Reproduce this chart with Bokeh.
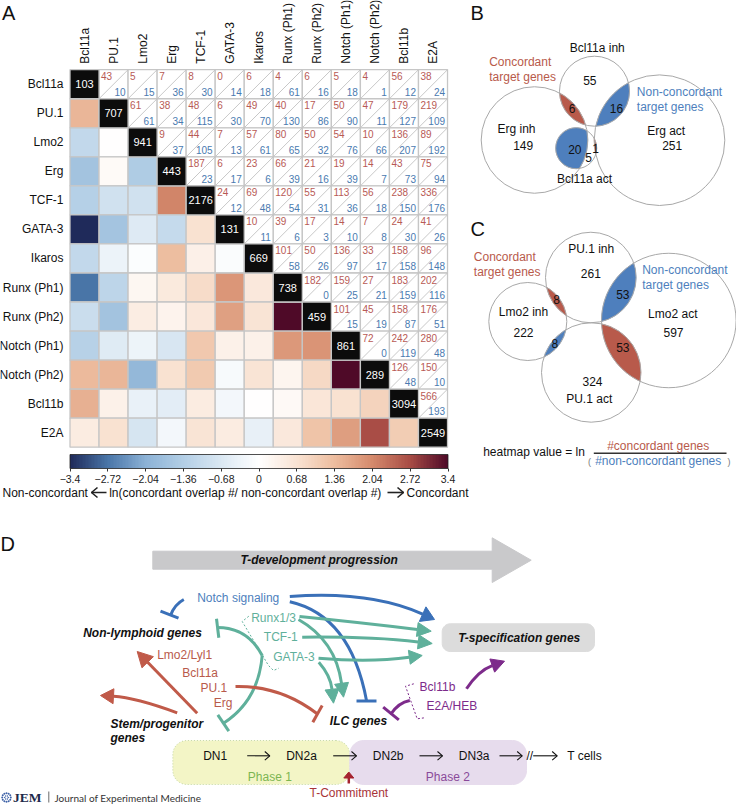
import numpy as np
from bokeh.embed import file_html
from bokeh.resources import INLINE
from bokeh.plotting import figure
from bokeh.core.properties import value
from bokeh.models import ColumnDataSource, Range1d, LinearColorMapper, ColorBar, FixedTicker

# ---------------------------------------------------------------- data
NAMES = ["Bcl11a", "PU.1", "Lmo2", "Erg", "TCF-1", "GATA-3", "Ikaros", "Runx (Ph1)", "Runx (Ph2)",
         "Notch (Ph1)", "Notch (Ph2)", "Bcl11b", "E2A"]
DIAGONAL = [103, 707, 941, 443, 2176, 131, 669, 738, 459, 861, 289, 3094, 2549]
CONCORDANT = [
    [43, 5, 7, 8, 0, 6, 4, 6, 5, 4, 56, 38],
    [61, 38, 48, 6, 49, 40, 17, 50, 47, 179, 219],
    [9, 44, 7, 57, 80, 50, 54, 10, 136, 89],
    [187, 6, 23, 66, 21, 19, 14, 43, 75],
    [24, 69, 120, 55, 113, 56, 238, 336],
    [10, 39, 17, 14, 7, 24, 41],
    [101, 50, 136, 33, 158, 96],
    [182, 159, 27, 183, 202],
    [101, 45, 158, 176],
    [72, 242, 280],
    [126, 150],
    [566],
]
NON_CONCORDANT = [
    [10, 15, 36, 30, 14, 18, 61, 16, 18, 1, 12, 24],
    [61, 34, 115, 30, 70, 130, 86, 90, 11, 127, 109],
    [37, 105, 13, 61, 65, 32, 76, 66, 207, 192],
    [23, 17, 6, 39, 16, 39, 7, 73, 94],
    [12, 48, 54, 31, 36, 18, 150, 176],
    [11, 6, 3, 10, 8, 30, 26],
    [58, 26, 97, 17, 158, 148],
    [0, 25, 21, 159, 116],
    [15, 19, 87, 51],
    [0, 119, 48],
    [48, 10],
    [193],
]
BAR_TICKS = [-3.4, -2.72, -2.04, -1.36, -0.68, 0, 0.68, 1.36, 2.04, 2.72, 3.4]
BAR_LABELS = ["\u22123.4", "\u22122.72", "\u22122.04", "\u22121.36", "\u22120.68", "0", "0.68", "1.36", "2.04", "2.72", "3.4"]

VENN_B_COUNTS = ["55", "6", "16", "149", "20", "5", "1", "251"]
VENN_C_COUNTS = ["261", "8", "53", "222", "8", "53", "597", "324"]

RED = "#b85a4b"
BLUE = "#4e7fbd"
HEAD_BLUE = "#3a70b8"
GREEN = "#5fb09b"
PURPLE = "#7d2b8b"
ARROW_RED = "#c05a49"
FONT = "Liberation Sans"

# ---------------------------------------------------------------- palette
anchor_v = [-3.4, -2.72, -2.04, -1.36, -0.68, 0, 0.68, 1.36, 2.04, 2.72, 3.4]
anchor_c = ["#1f2a5a", "#4a76a9", "#8cb2d6", "#b3cfe6", "#dbe8f3", "#ffffff", "#f9e3d3",
            "#edbd9f", "#d58a6c", "#a84c45", "#4f0a28"]
rgb = np.array([[int(h[i:i + 2], 16) for i in (1, 3, 5)] for h in anchor_c], float)
grid = np.linspace(-3.4, 3.4, 256)
PAL = ["#%02x%02x%02x" % tuple(int(round(np.interp(g, anchor_v, rgb[:, k]))) for k in range(3)) for g in grid]
mapper = LinearColorMapper(palette=PAL, low=-3.4, high=3.4)

W, H = 736, 806
X0, Y0, CELL = 69.5, 69.2, 29.04   # heatmap origin and cell size on the page

d = figure(width=W, height=H, x_range=Range1d(0, W), y_range=Range1d(H, 0), x_axis_type=None, y_axis_type=None,
           toolbar_location=None, output_backend="svg", min_border=0)
d.outline_line_color = None
d.grid.visible = False
# the heatmap is drawn through its own scale, in cell units
d.extra_x_ranges["cell_x"] = Range1d(-X0 / CELL, (W - X0) / CELL)
d.extra_y_ranges["cell_y"] = Range1d((H - Y0) / CELL, -Y0 / CELL)
cell = dict(x_range_name="cell_x", y_range_name="cell_y")

# ---------------------------------------------------------------- A: heatmap
low_x, low_y, low_v = [], [], []
up_x, up_y, up_c, up_n = [], [], [], []
for r in range(len(CONCORDANT)):
    for k, (c_val, n_val) in enumerate(zip(CONCORDANT[r], NON_CONCORDANT[r])):
        col = r + 1 + k
        up_x.append(col + 0.5); up_y.append(r + 0.5)
        up_c.append(str(c_val)); up_n.append(str(n_val))
        low_x.append(r + 0.5); low_y.append(col + 0.5)
        low_v.append(float(np.clip(np.log(c_val / n_val), -3.4, 3.4)) if c_val and n_val else (3.4 if c_val else -3.4))

GRID = "#c6c6c6"
d.rect(x="x", y="y", width=1, height=1, source=ColumnDataSource(dict(x=low_x, y=low_y, v=low_v)),
       fill_color={"field": "v", "transform": mapper}, line_color=GRID, line_width=1.3, **cell)
up = ColumnDataSource(dict(x=up_x, y=up_y, c=up_c, n=up_n, x0=[a - 0.5 for a in up_x], y0=[b + 0.5 for b in up_y],
                           x1=[a + 0.5 for a in up_x], y1=[b - 0.5 for b in up_y]))
d.rect(x="x", y="y", width=1, height=1, source=up, fill_color="white", line_color=GRID, line_width=1.3, **cell)
d.segment(x0="x0", y0="y0", x1="x1", y1="y1", source=up, line_color="#c2c2c2", line_width=0.9, **cell)
d.text(x="x", y="y", text="c", source=up, x_offset=-12.5, y_offset=-8, text_color="#b85a55", text_align="left",
       text_baseline="middle", text_font=value(FONT), text_font_size="10px", **cell)
d.text(x="x", y="y", text="n", source=up, x_offset=12, y_offset=7.5, text_color="#4a7ab0", text_align="right",
       text_baseline="middle", text_font=value(FONT), text_font_size="10px", **cell)
idx = [i + 0.5 for i in range(len(NAMES))]
dg = ColumnDataSource(dict(x=idx, y=idx, t=[str(v) for v in DIAGONAL], name=NAMES, zero=[0.0] * len(NAMES)))
d.rect(x="x", y="y", width=1, height=1, source=dg, fill_color="#0c0c0c", line_color=GRID, line_width=1.3, **cell)
d.text(x="x", y="y", text="t", source=dg, text_color="white", text_align="center", text_baseline="middle",
       text_font=value(FONT), text_font_size="11px", **cell)
# category labels
d.text(x="zero", y="y", text="name", source=dg, x_offset=-6.5, text_align="right", text_baseline="middle",
       text_color="#111111", text_font=value(FONT), text_font_size="12px", **cell)
d.text(x="x", y="zero", text="name", source=dg, y_offset=-6, angle=np.pi / 2, text_align="left", text_baseline="middle",
       text_color="#111111", text_font=value(FONT), text_font_size="12px", **cell)

bar = ColorBar(color_mapper=mapper, orientation="horizontal", width=378, height=14, padding=0, margin=0,
               location=(X0, H - 485), ticker=FixedTicker(ticks=BAR_TICKS),
               major_label_overrides=dict(zip(BAR_TICKS, BAR_LABELS)),
               major_label_text_font=FONT, major_label_text_font_size="10.5px", major_label_text_color="#222222",
               major_tick_in=0, major_tick_out=3, major_tick_line_color="#333333", label_standoff=3,
               bar_line_color="#222222", bar_line_width=0.8, minor_tick_line_color=None)
d.add_layout(bar, "center")


# ---------------------------------------------------------------- helpers
def txt(x, y, s, size=12, color="#111111", align="left", style="normal", font=FONT):
    d.text(x=[x], y=[y], text=[s], text_font=value(font), text_font_size=f"{size}px", text_color=color,
           text_align=align, text_baseline="middle", text_font_style=style)


def chevron(x0, x1, y, color="#222222", w=1.6, b=6, h=5):
    s = 1 if x1 > x0 else -1
    d.line([x0, x1], [y, y], line_color=color, line_width=w)
    d.line([x1 - s * b, x1, x1 - s * b], [y - h, y, y + h], line_color=color, line_width=w)


def lens(a, b):
    (ax, ay, ar), (bx, by, br) = a, b
    dist = np.hypot(bx - ax, by - ay)
    phi = np.arctan2(by - ay, bx - ax)
    al = np.arccos((dist ** 2 + ar * ar - br * br) / (2 * dist * ar))
    be = np.arccos((dist ** 2 + br * br - ar * ar) / (2 * dist * br))
    t1 = np.linspace(phi - al, phi + al, 60)
    t2 = np.linspace(phi + np.pi - be, phi + np.pi + be, 60)
    return (list(ax + ar * np.cos(t1)) + list(bx + br * np.cos(t2)),
            list(ay + ar * np.sin(t1)) + list(by + br * np.sin(t2)))


def draw_venn(circles, fills, counts, count_xy):
    for (i, j, c) in fills:
        xs, ys = lens(circles[i], circles[j])
        d.patch(xs, ys, fill_color=c, line_color=c, line_width=0.3)
    d.circle(x=[c[0] for c in circles], y=[c[1] for c in circles], radius=[c[2] for c in circles],
             fill_alpha=0, line_color="#a8a8a8", line_width=1)
    for s, (x, y) in zip(counts, count_xy):
        txt(x, y, s, align="center")


def curve(x0, y0, cx, cy, x1, y1, color, w=3.0):
    d.quadratic(x0=[x0], y0=[y0], x1=[x1], y1=[y1], cx=[cx], cy=[cy], line_color=color, line_width=w)


def arrow(x0, y0, cx, cy, tx, ty, color, L=12, Hw=7, w=3.0):
    v = np.array([tx - cx, ty - cy], float)
    v /= np.hypot(*v)
    n = np.array([-v[1], v[0]])
    base = np.array([tx, ty]) - L * v
    curve(x0, y0, cx, cy, base[0], base[1], color, w)
    a, b = base + Hw * n, base - Hw * n
    d.patch([tx, a[0], b[0]], [ty, a[1], b[1]], fill_color=color, line_color=color)


def tbar(x0, y0, cx, cy, x1, y1, b0, b1, color, w=3.0):
    curve(x0, y0, cx, cy, x1, y1, color, w)
    d.line([b0[0], b1[0]], [b0[1], b1[1]], line_color=color, line_width=w)


def rounded(x0, y0, x1, y1, r, **kw):
    t = np.linspace(0, np.pi / 2, 10)
    xs = list(x1 - r + r * np.sin(t)) + list(x1 - r + r * np.cos(t)) + list(x0 + r - r * np.sin(t)) + list(x0 + r - r * np.cos(t))
    ys = list(y0 + r - r * np.cos(t)) + list(y1 - r + r * np.sin(t)) + list(y1 - r + r * np.cos(t)) + list(y0 + r - r * np.sin(t))
    d.patch(xs, ys, **kw)


txt(1.5, 12, "A", size=20)
txt(2, 492, "Non-concordant")
chevron(106, 91, 492)
txt(108.7, 492, "ln(concordant overlap #/ non-concordant overlap #)")
chevron(387, 403, 492)
txt(406, 492, "Concordant")

# ---------------------------------------------------------------- B, C: venns
txt(470, 12, "B", size=20)
B = [(594, 90.7, 35), (534, 139.5, 53.3), (659, 139.7, 65.3), (575.7, 147.7, 20.5)]
draw_venn(B, [(0, 1, RED), (0, 2, BLUE), (3, 1, BLUE), (3, 2, RED)], VENN_B_COUNTS,
          [(589.3, 80), (571.7, 108.3), (616, 108.3), (522.7, 145.3), (574.3, 148.7), (588, 156.7), (595, 148.3), (671.7, 145.3)])
txt(596.7, 47.3, "Bcl11a inh", align="center")
txt(516, 128.7, "Erg inh", align="center")
txt(584, 178.7, "Bcl11a act", align="center")
txt(665.7, 130.7, "Erg act", align="center")
txt(488.7, 61.7, "Concordant", color=RED)
txt(488.7, 76.3, "target genes", color=RED)
txt(636.3, 91, "Non-concordant", color=BLUE)
txt(636.3, 106, "target genes", color=BLUE)

txt(470, 228, "C", size=20)
C = [(590.3, 277, 45.3), (527.3, 321, 39), (668.3, 320, 67.3), (590.7, 372, 49.7)]
draw_venn(C, [(0, 1, RED), (0, 2, BLUE), (3, 1, BLUE), (3, 2, RED)], VENN_C_COUNTS,
          [(590.3, 272.7), (556, 298.7), (622.3, 293.7), (523, 332), (554.3, 343.3), (622.3, 347.3), (673, 332), (592, 380.7)])
txt(590.7, 248.3, "PU.1 inh", align="center")
txt(523, 311.3, "Lmo2 inh", align="center")
txt(672.3, 313, "Lmo2 act", align="center")
txt(588.7, 398.7, "PU.1 act", align="center")
txt(473.3, 256.7, "Concordant", color=RED)
txt(473.3, 271.7, "target genes", color=RED)
txt(641.7, 269.7, "Non-concordant", color=BLUE)
txt(641.7, 284.3, "target genes", color=BLUE)

txt(482.7, 451, "heatmap value = ln")
txt(657.7, 445, "#concordant genes", color=RED, align="center")
txt(657.7, 460.5, "#non-concordant genes", color=BLUE, align="center")
d.line([593.3, 726], [452.7, 452.7], line_color="#333333", line_width=1.4)
txt(587.5, 461, "(", size=9, color="#777777")
txt(727, 461, ")", size=9, color="#777777")

# ---------------------------------------------------------------- D: model
txt(0, 543, "D", size=20)

d.patch([152.3, 491.7, 491.7, 530.7, 491.7, 491.7, 152.3], [550.7, 550.7, 537.3, 559.7, 582, 568.7, 568.7],
        fill_color="#c9c9cb", line_color="#c9c9cb")
txt(240, 559.5, "T-development progression", style="bold italic")

rounded(441.7, 623.3, 594, 651, 8, fill_color="#dcdcdc", line_color="#dcdcdc")
txt(457.7, 637.5, "T-specification genes", style="bold italic")
rounded(172.3, 740, 349.3, 784, 14, fill_color="#f3f5c6", line_color="#b7cf9a", line_width=0.8, line_dash="1 2")
rounded(349.3, 740, 526, 784, 14, fill_color="#e7dced", line_color="#e7dced")

# blue
arrow(289.3, 596, 370, 590, 434, 619, HEAD_BLUE, L=13, Hw=8)
tbar(289.3, 601.3, 350, 615, 366, 700, (356, 700.5), (376, 700.5), HEAD_BLUE)
tbar(183.3, 599, 174, 604, 170, 615, (160, 610.7), (178, 617.7), HEAD_BLUE)

# green
arrow(299, 616, 360, 622, 430.7, 630.7, GREEN, L=14, Hw=7)
arrow(301.7, 636.7, 370, 636, 431.7, 643, GREEN, L=14, Hw=7)
arrow(318, 657.7, 370, 662, 421.7, 655, GREEN, L=13, Hw=7)
arrow(298, 619, 335, 640, 343, 696.7, GREEN, L=14, Hw=7)
arrow(318.3, 661.7, 330, 675, 333, 702.7, GREEN, L=14, Hw=7)
tbar(261.7, 655, 247, 627, 217, 627, (216, 618.3), (218.3, 637.3), GREEN)
tbar(261.7, 655, 258, 700, 223, 722.7, (217.3, 714.3), (228.3, 730.7), GREEN)
d.line([248.3, 241.7, 268, 273, 278.3], [615.7, 621, 665, 670, 667.7], line_color=GREEN, line_width=1, line_dash="2 2")

# red
arrow(196.7, 712.7, 166, 681, 136.7, 651, ARROW_RED, L=15, Hw=8)
arrow(176.7, 712.3, 135, 697, 100, 695, ARROW_RED, L=13, Hw=7.5)
tbar(235, 686, 280, 685, 316.7, 713.3, (321.7, 705), (312.3, 721.7), ARROW_RED)

# purple
arrow(466, 688.3, 478, 670, 504, 660.7, PURPLE, L=13, Hw=7)
tbar(409.3, 700, 398, 702, 390, 714, (382.7, 706.7), (398.3, 719.3), PURPLE)
d.line([413.3, 405, 416.7, 424], [683.3, 685.7, 718.3, 717.3], line_color=PURPLE, line_width=1, line_dash="2 2")

txt(196.7, 597.7, "Notch signaling", color=BLUE)
txt(250.7, 617.3, "Runx1/3", color=GREEN)
txt(263.3, 636.7, "TCF-1", color=GREEN)
txt(272.7, 656, "GATA-3", color=GREEN)
txt(82.7, 632.3, "Non-lymphoid genes", style="bold italic")
txt(156.7, 654.7, "Lmo2/Lyl1", color=RED)
txt(181.7, 672, "Bcl11a", color=RED)
txt(200, 687, "PU.1", color=RED)
txt(213.3, 702, "Erg", color=RED)
txt(110, 723, "Stem/progenitor", style="bold italic")
txt(110, 737.7, "genes", style="bold italic")
txt(329.3, 720, "ILC genes", style="bold italic")
txt(419, 686.7, "Bcl11b", color=PURPLE)
txt(426, 705.7, "E2A/HEB", color=PURPLE)

for x, s in [(214.7, "DN1"), (301, "DN2a"), (387.7, "DN2b"), (473.7, "DN3a")]:
    txt(x, 755.3, s, align="center")
txt(566.7, 755.3, "T cells")
txt(526, 755.3, "//")
for x0, x1 in [(246.7, 269.3), (332.7, 356), (419, 442), (499, 521.7), (532.7, 556.7)]:
    chevron(x0, x1, 755.3, color="#111111", w=1.1, b=5, h=4.3)
txt(269.3, 776, "Phase 1", color="#7cb552", align="center")
txt(447.3, 776, "Phase 2", color="#8a4a9a", align="center")
arrow(348.3, 783, 348.3, 778, 348.3, 771.5, "#a5232f", L=6, Hw=5, w=2.5)
txt(348.3, 792.7, "T-Commitment", color="#a83438", align="center")

# journal mark
ang = np.linspace(0, 2 * np.pi, 12, endpoint=False)
d.scatter(6 + 4.3 * np.cos(ang), 797 + 4.3 * np.sin(ang), size=2, color="#3f63a8", line_color=None)
d.scatter(6 + 1.8 * np.cos(ang[::2]), 797 + 1.8 * np.sin(ang[::2]), size=1.4, color="#3f63a8", line_color=None)
txt(12.5, 797, "JEM", size=13.5, color="#1c2a4a", style="bold", font="Liberation Serif")
d.line([48.3, 48.3], [791, 802], line_color="#444444", line_width=0.8)
txt(54, 797, "Journal of Experimental Medicine", size=10, color="#333333", font="Lato")

open("out.html", "w").write(file_html(d, INLINE))
